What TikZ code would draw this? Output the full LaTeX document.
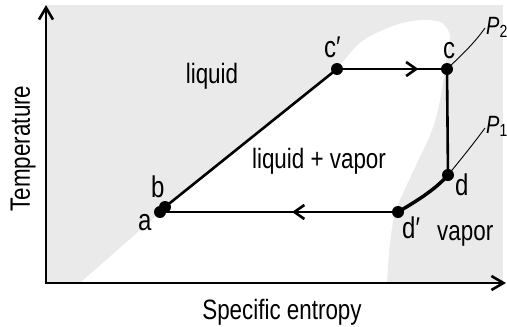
\documentclass[tikz,border=0pt]{standalone}
\usepackage{fontspec}
\setmainfont{Liberation Sans}[FakeStretch=0.8]
\usetikzlibrary{arrows.meta,decorations.markings}
\definecolor{phasegray}{RGB}{234,234,234}
\begin{document}
\begin{tikzpicture}[x=1pt,y=-1pt,
  dot/.style={circle,fill=black,inner sep=0pt,minimum size=12pt},
  lbl/.style={inner sep=0pt,font=\fontsize{28}{30}\selectfont},
  ptlbl/.style={inner sep=0pt,font=\fontsize{30}{32}\selectfont},
  plbl/.style={inner sep=0pt,font=\fontsize{25}{27}\selectfont},
  cyc/.style={line width=2.6pt},
  thin/.style={line width=0.9pt},
  axis/.style={line width=2.6pt,{Straight Barb[length=12pt,width=14pt]}-{Straight Barb[length=12pt,width=14pt]}},
  midarrow/.style={postaction={decorate},decoration={markings,
     mark=at position #1 with {\arrow{Straight Barb[length=10pt,width=14pt,line width=2.6pt]}}}}
]
\useasboundingbox (0,0) rectangle (507,327);
% background regions
\fill[phasegray] (47,5) rectangle (503,283);
\fill[white] (80,283) -- (162,211) -- (337,69)
  -- plot[smooth,tension=0.6] coordinates {(337,69) (360,43) (383,30) (403,23) (423,20) (440,22) (448,30) (450,40) (446,62) (440,100) (432,130) (416,165) (403,193) (395,213) (390,243) (387,283)}
  -- cycle;
% axes
\coordinate (O) at (46,283);
\coordinate (ytip) at (46,5);
\coordinate (xtip) at (506,283);
\draw[axis] (ytip) -- (O) -- (xtip);
% points
\node[dot] (a) at (160,212) {};
\node[dot] (b) at (165,207) {};
\node[dot] (cp) at (337,69) {};
\node[dot] (c) at (447,69) {};
\node[dot] (d) at (448,175) {};
\node[dot] (dp) at (398,212) {};
\coordinate (p2end) at (485,28);
\coordinate (p1end) at (485,128);
% cycle
\draw[cyc] (b.center) -- (cp.center);
\draw[cyc,midarrow=0.74] (cp.center) -- (c.center);
\draw[cyc] (c.center) -- (d.center);
\draw[line width=3.5pt] (dp.center) .. controls (415,202) and (435,190) .. (d.center);
\draw[cyc,midarrow=0.445] (dp.center) -- (a.center);
\draw[cyc] (a.center) -- (b.center);
% isobars
\draw[thin] (c.center) .. controls (465,52) and (475,42) .. (p2end);
\draw[thin] (d.center) .. controls (462,158) and (474,143) .. (p1end);
% labels
\node[lbl,anchor=base] (tliq) at (212,83) {liquid};
\node[lbl,anchor=base] (tmix) at (319,168) {liquid + vapor};
\node[lbl,anchor=base west] (tvap) at (437,240) {vapor};
\node[ptlbl,anchor=base west] (ta) at (138,230) {a};
\node[ptlbl,anchor=base west] (tb) at (151,197) {b};
\node[ptlbl,anchor=base west] (tcp) at (324,57) {c′};
\node[ptlbl,anchor=base west] (tc) at (443,58) {c};
\node[ptlbl,anchor=base west] (td) at (455,195) {d};
\node[ptlbl,anchor=base west] (tdp) at (402,238) {d′};
\node[plbl,anchor=base west] (tp2) at (486,34) {\itshape P\textsubscript{\upshape 2}};
\node[plbl,anchor=base west] (tp1) at (486,133) {\itshape P\textsubscript{\upshape 1}};
\node[lbl,anchor=base] (ts) at (282,319) {Specific entropy};
\node[lbl,anchor=base,rotate=90] (tt) at (30,148.5) {Temperature};
\end{tikzpicture}
\end{document}
